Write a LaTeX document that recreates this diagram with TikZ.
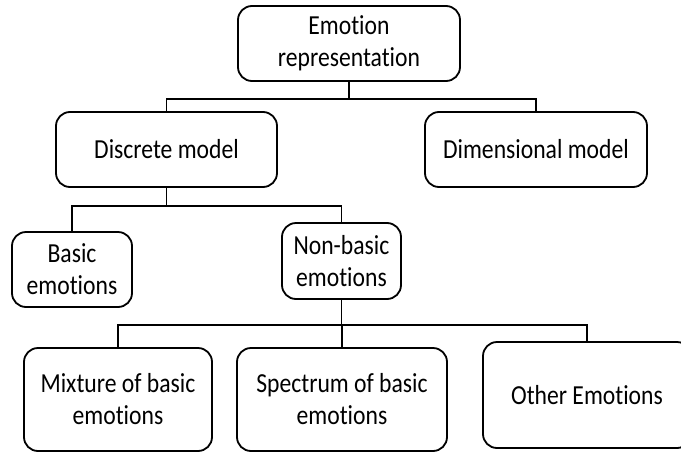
\documentclass[tikz,border=0pt]{standalone}
\usepackage{fontspec}
\setmainfont{Carlito}[Ligatures=NoCommon,FakeStretch=0.86]
\begin{document}
\begin{tikzpicture}[x=1pt,y=-1pt,
  box/.style={draw,line width=1.8pt,rounded corners=14pt,align=center,
    inner sep=0pt,font=\fontsize{27.5}{32}\selectfont},
  link/.style={line width=1.8pt}]
  % page frame
  \fill[white] (0,0) rectangle (681,453);
  \useasboundingbox (0,0) rectangle (681,453);
  \clip (0,0) rectangle (681,453);

  % boxes
  \node[box,minimum width=222pt,minimum height=75pt] (top) at (349,43.5) {Emotion\\representation};
  \node[box,minimum width=221pt,minimum height=75pt] (disc) at (166.5,149.5) {Discrete model};
  \node[box,minimum width=222pt,minimum height=75pt] (dim) at (536,149.5) {Dimensional model};
  \node[box,minimum width=120pt,minimum height=75pt] (basic) at (72,269.5) {Basic\\emotions};
  \node[box,minimum width=119pt,minimum height=76pt] (nonbasic) at (341.5,261) {Non-basic\\emotions};
  \node[box,minimum width=188pt,minimum height=103pt] (mix) at (118,399.5) {Mixture of basic\\emotions};
  \node[box,minimum width=210pt,minimum height=103pt] (spec) at (342,399.5) {Spectrum of basic\\emotions};
  \node[box,minimum width=208pt,minimum height=106pt] (other) at (587,395) {Other Emotions};

  % tree connectors
  \draw[link] (top.south) -- ++(0,17) coordinate (j1);
  \draw[link] (j1) -| (disc.north);
  \draw[link] (j1) -| (dim.north);

  \draw[link] (disc.south) -- ++(0,18) coordinate (j2);
  \draw[link] (j2) -| (basic.north);
  \draw[link] (j2) -| (nonbasic.north);

  \draw[link] (nonbasic.south) -- ++(0,25) coordinate (j3);
  \draw[link] (j3) -| (mix.north);
  \draw[link] (j3) -| (spec.north);
  \draw[link] (j3) -| (other.north);
\end{tikzpicture}
\end{document}
